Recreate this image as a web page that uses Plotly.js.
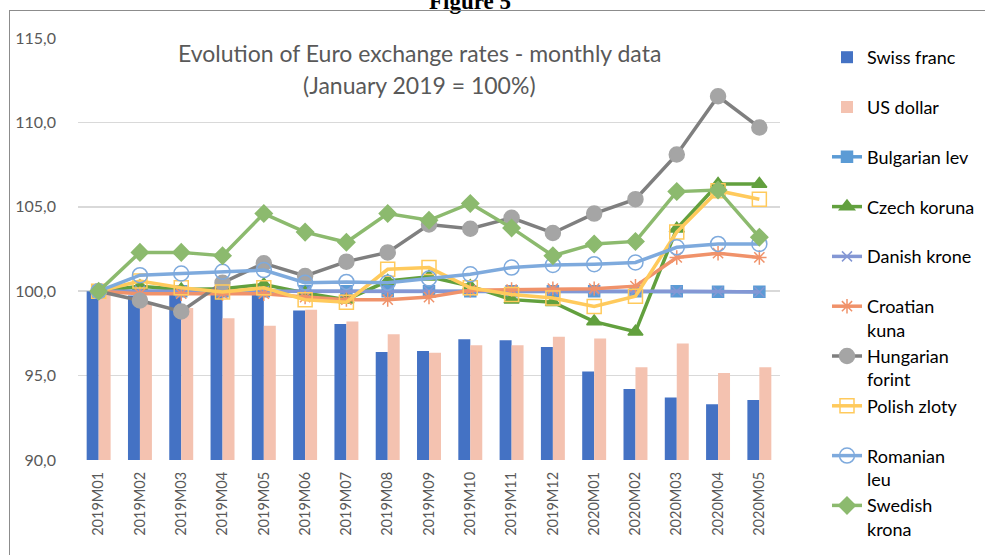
<!DOCTYPE html>
<html>
<head>
<meta charset="utf-8">
<script src="https://cdn.plot.ly/plotly-3.0.1.min.js"></script>
<style>
  html, body { margin: 0; padding: 0; background: #ffffff; overflow: hidden; }
  #frame { position: absolute; left: 9px; top: 10px; width: 1100px; height: 700px; border: 1.5px solid #8c8c8c; box-sizing: border-box; pointer-events: none; }
  #chart { position: absolute; left: 0; top: 0; width: 985px; height: 555px; }
</style>
</head>
<body>
<div id="chart"></div>
<div id="frame"></div>
<script>
const months = ["2019M01","2019M02","2019M03","2019M04","2019M05","2019M06","2019M07","2019M08","2019M09","2019M10","2019M11","2019M12","2020M01","2020M02","2020M03","2020M04","2020M05"];

const swissFranc   = [100, 99.75, 100.3, 100.0, 99.9, 98.85, 98.05, 96.4, 96.45, 97.15, 97.1, 96.7, 95.25, 94.2, 93.7, 93.3, 93.55];
const usDollar     = [100, 99.3, 99.0, 98.4, 97.95, 98.9, 98.2, 97.45, 96.35, 96.8, 96.8, 97.3, 97.2, 95.5, 96.9, 95.15, 95.5];
const bulgarianLev = [100, 100, 100, 100, 100, 100, 100, 100, 100, 100, 100, 100, 100, 100, 100, 99.97, 99.97];
const czechKoruna  = [100, 100.3, 100.1, 100.15, 100.4, 99.9, 99.5, 100.6, 100.85, 100.3, 99.5, 99.35, 98.2, 97.6, 103.7, 106.35, 106.35];
const danishKrone  = [100, 100.02, 100.0, 100.0, 100.0, 100.0, 100.0, 100.0, 100.0, 100.05, 100.05, 100.05, 100.05, 100.05, 100.0, 99.98, 99.95];
const croatianKuna = [100, 99.85, 99.85, 99.85, 99.85, 99.65, 99.5, 99.5, 99.65, 100.05, 100.1, 100.15, 100.15, 100.3, 102.0, 102.25, 102.0];
const hungarianForint = [100, 99.45, 98.8, 100.5, 101.65, 100.9, 101.75, 102.3, 103.95, 103.7, 104.35, 103.45, 104.6, 105.45, 108.1, 111.55, 109.7];
const polishZloty  = [100, 100.6, 100.2, 99.95, 100.2, 99.5, 99.35, 101.3, 101.4, 100.2, 99.8, 99.6, 99.1, 99.7, 103.5, 105.95, 105.45];
const romanianLeu  = [100, 100.95, 101.05, 101.15, 101.25, 100.5, 100.55, 100.5, 100.75, 101.0, 101.4, 101.55, 101.6, 101.7, 102.6, 102.8, 102.8];
const swedishKrona = [100, 102.3, 102.3, 102.1, 104.6, 103.5, 102.9, 104.6, 104.2, 105.2, 103.75, 102.1, 102.8, 102.95, 105.9, 106.0, 103.2];

const yTicks = [90, 95, 100, 105, 110, 115];

function lineTrace(label, y, color, symbol, mcolor, size, group) {
  return {
    type: 'scatter', mode: 'lines+markers', name: label, x: months, y: y,
    legendgroup: group,
    line: { color: color, width: 3.5 },
    marker: { symbol: symbol, color: mcolor, size: size, line: { color: mcolor, width: 1.5 } },
    hoverinfo: 'skip'
  };
}

const data = [
  { type: 'bar', name: 'Swiss franc<br>&nbsp;', x: months, y: swissFranc, legendgroup: 'g1', marker: { color: '#4472C4' } },
  { type: 'bar', name: 'US dollar<br>&nbsp;', x: months, y: usDollar, legendgroup: 'g2', marker: { color: '#F4C2B0' } },
  lineTrace('Bulgarian lev<br>&nbsp;', bulgarianLev, '#5B9BD5', 'square', '#5B9BD5', 11, 'g3'),
  lineTrace('Czech koruna<br>&nbsp;', czechKoruna, '#62A03E', 'triangle-up', '#62A03E', 13, 'g4'),
  lineTrace('Danish krone<br>&nbsp;', danishKrone, '#8497D4', 'x-thin-open', '#8497D4', 10, 'g5'),
  lineTrace('Croatian<br>kuna', croatianKuna, '#F0926A', 'asterisk-open', '#F0926A', 12, 'g6'),
  lineTrace('Hungarian<br>forint', hungarianForint, '#7F7F7F', 'circle', '#A5A5A5', 15, 'g7'),
  lineTrace('Polish zloty<br>&nbsp;', polishZloty, '#FFCA5C', 'square-open', '#FFCA5C', 14, 'g8'),
  lineTrace('Romanian<br>leu', romanianLeu, '#7EAADD', 'circle-open', '#7EAADD', 15, 'g9'),
  lineTrace('Swedish<br>krona', swedishKrona, '#8CBA6E', 'diamond', '#8CBA6E', 13, 'g10')
];

const layout = {
  width: 985, height: 555,
  margin: { l: 78, r: 205, t: 38, b: 95, autoexpand: false },
  paper_bgcolor: 'rgba(0,0,0,0)',
  plot_bgcolor: 'rgba(0,0,0,0)',
  separators: ',.',
  barmode: 'group',
  bargap: 0.42,
  bargroupgap: 0,
  showlegend: true,
  font: { family: 'Lato, "Open Sans", sans-serif', color: '#595959' },
  xaxis: {
    type: 'category', tickangle: -90, automargin: false,
    range: [-0.5, months.length - 0.5],
    tickfont: { size: 14.5, color: '#595959' },
    showgrid: false, showline: false, ticks: '', ticklabelstandoff: 8
  },
  yaxis: {
    range: [90, 115], tickvals: yTicks, tickformat: '.1f', automargin: false,
    tickfont: { size: 16, color: '#595959' },
    showgrid: true, gridcolor: '#D9D9D9', gridwidth: 1.5,
    zeroline: false, showline: false, ticks: '', ticklabelstandoff: 21
  },
  legend: {
    xref: 'container', yref: 'container',
    x: 827 / 985, xanchor: 'left', y: 1 - 39 / 555, yanchor: 'top',
    font: { size: 18, color: '#000000' },
    traceorder: 'grouped', tracegroupgap: 0, valign: 'top',
    maxheight: 700,
    bgcolor: 'rgba(0,0,0,0)'
  },
  annotations: [
    { text: 'Evolution of Euro exchange rates - monthly data', xref: 'paper', yref: 'paper',
      x: (419 - 78) / 702, y: 1 - (53 - 38) / 422, xanchor: 'center', yanchor: 'middle',
      showarrow: false, font: { size: 23, color: '#595959' } },
    { text: '(January 2019 = 100%)', xref: 'paper', yref: 'paper',
      x: (419 - 78) / 702, y: 1 - (85 - 38) / 422, xanchor: 'center', yanchor: 'middle',
      showarrow: false, font: { size: 23, color: '#595959' } },
    { text: '<b>Figure 5</b>', xref: 'paper', yref: 'paper',
      x: (470 - 78) / 702, y: 1 + (38 - 16) / 422, xanchor: 'center', yanchor: 'bottom',
      showarrow: false, font: { family: '"Liberation Serif", serif', size: 23, color: '#000000' } }
  ]
};

Plotly.newPlot('chart', data, layout, { displayModeBar: false, staticPlot: true });
</script>
</body>
</html>
